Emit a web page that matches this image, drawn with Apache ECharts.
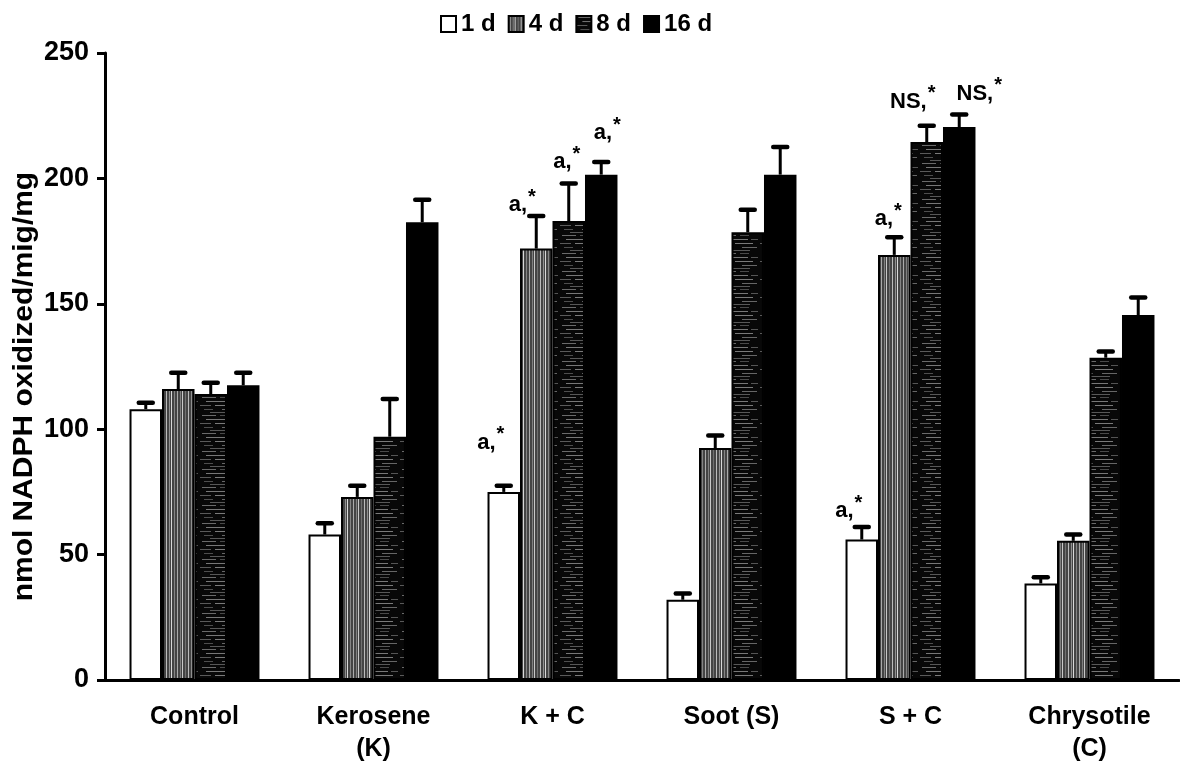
<!DOCTYPE html>
<html>
<head>
<meta charset="utf-8">
<script src="https://cdn.jsdelivr.net/npm/echarts@6/dist/echarts.min.js"></script>
<style>
  html, body { margin: 0; padding: 0; background: #fff; }
  #chart { width: 1180px; height: 765px; }
</style>
</head>
<body>
<div id="chart"></div>
<script>
// Groups along the x axis
const categories = ['Control', 'Kerosene\n(K)', 'K + C', 'Soot (S)', 'S + C', 'Chrysotile\n(C)'];
const seriesNames = ['1 d', '4 d', '8 d', '16 d'];

// Mean NADPH oxidation per exposure time
const day1 = [108, 58, 75, 32, 56, 38.5];
const day4 = [116, 73, 172, 92.5, 169.5, 55.5];
const day8 = [114, 97, 183, 178.5, 214.5, 128.5];
const day16 = [117.5, 182.5, 201.5, 201.5, 220.5, 145.5];

// Upper error (SE) per exposure time
const day1Err = [2.5, 4.5, 2.5, 2.5, 5, 2.5];
const day4Err = [6.5, 4.5, 13, 5, 7, 2.5];
const day8Err = [4.5, 15, 15, 9, 6.5, 2.5];
const day16Err = [5, 9, 5, 11, 5, 7];

// Significance marks above bars
const day1Marks = ['', '', 'a,*', '', 'a,*', ''];
const day4Marks = ['', '', 'a,*', '', 'a,*', ''];
const day8Marks = ['', '', 'a,*', '', 'NS,*', ''];
const day16Marks = ['', '', 'a,*', '', 'NS,*', ''];

// Y axis ticks
const yTicks = [0, 50, 100, 150, 200, 250];

const means = [day1, day4, day8, day16];
const errs = [day1Err, day4Err, day8Err, day16Err];
const marks = [day1Marks, day4Marks, day8Marks, day16Marks];

// Placement of each mark relative to its error cap: [dx from bar centre, gap above cap] (px)
const markPlacement = {
  '0-2': [-13, 32], '1-2': [-14, 0], '2-2': [-2, 10], '3-2': [6, 18],
  '0-4': [-13, 5],  '1-4': [-6, 7], '2-4': [-14, 13], '3-4': [20, 10]
};

const FONT = '"Liberation Sans", Arial, Helvetica, sans-serif';

// Hatch fills
function stripePattern() {
  const c = document.createElement('canvas');
  c.width = 22; c.height = 4;
  const g = c.getContext('2d');
  g.fillStyle = '#444';
  g.fillRect(0, 0, 22, 4);
  const cols = [[1, '#aaa'], [4, '#808080'], [6, '#c8c8c8'], [9, '#707070'], [12, '#bbb'], [15, '#909090'], [17, '#d8d8d8'], [20, '#858585']];
  cols.forEach(([x, col]) => { g.fillStyle = col; g.fillRect(x, 0, 1, 4); });
  return c;
}
function dashPattern() {
  const c = document.createElement('canvas');
  c.width = 40; c.height = 18;
  const g = c.getContext('2d');
  g.fillStyle = '#080808';
  g.fillRect(0, 0, 40, 18);
  const dashes = [[2, 1, 14, '#6a6a6a'], [20, 1, 9, '#4a4a4a'], [6, 5, 22, '#777'], [31, 5, 7, '#555'],
                  [0, 9, 11, '#5a5a5a'], [15, 9, 18, '#7a7a7a'], [4, 13, 9, '#4e4e4e'], [22, 13, 15, '#666'],
                  [10, 16, 20, '#585858']];
  dashes.forEach(([x, y, w, col]) => { g.fillStyle = col; g.fillRect(x, y, w, 1); });
  return c;
}

const fills = [
  '#ffffff',
  { image: stripePattern(), repeat: 'repeat' },
  { image: dashPattern(), repeat: 'repeat' },
  '#000000'
];

const CAT_GAP = 0.274; // fraction of each band left empty

const barSeries = seriesNames.map((name, i) => ({
  name: name,
  type: 'bar',
  data: means[i],
  barGap: '0%',
  barCategoryGap: (CAT_GAP * 100) + '%',
  itemStyle: { color: fills[i], borderColor: '#000', borderWidth: 2 },
  emphasis: { disabled: true },
  z: 2
}));

const errSeries = seriesNames.map((name, i) => ({
  type: 'custom',
  name: name + ' err',
  data: means[i].map((v, k) => [k, v, errs[i][k]]),
  encode: { x: 0, y: 1 },
  z: 5,
  silent: true,
  renderItem: function (params, api) {
    const k = api.value(0);
    const v = api.value(1);
    const e = api.value(2);
    const mark = marks[i][k];
    const band = api.size([1, 0])[0];
    const bw = band * (1 - CAT_GAP) / 4;
    const base = api.coord([k, v]);
    const top = api.coord([k, v + e]);
    const x = base[0] + (i - 1.5) * bw;
    const children = [
      { type: 'line', shape: { x1: x, y1: base[1], x2: x, y2: top[1] },
        style: { stroke: '#000', lineWidth: 3 } },
      { type: 'line', shape: { x1: x - 7, y1: top[1], x2: x + 7, y2: top[1] },
        style: { stroke: '#000', lineWidth: 4.5, lineCap: 'round' } }
    ];
    if (mark) {
      const place = markPlacement[i + '-' + k] || [0, 12];
      const parts = mark.split('*');
      children.push({
        type: 'text',
        style: {
          x: x + place[0], y: top[1] - place[1],
          text: '{m|' + parts[0] + '}{s|*}',
          align: 'center', verticalAlign: 'bottom',
          rich: {
            m: { font: 'bold 22px ' + FONT, fill: '#000', verticalAlign: 'bottom' },
            s: { font: 'bold 20px ' + FONT, fill: '#000', verticalAlign: 'top', padding: [0, 0, 9, 1] }
          }
        }
      });
    }
    return { type: 'group', children: children };
  }
}));

const GRID = { left: 105, right: 1, top: 53, bottom: 82 };

const chart = echarts.init(document.getElementById('chart'), null, { renderer: 'canvas' });
chart.setOption({
  animation: false,
  backgroundColor: '#fff',
  textStyle: { fontFamily: FONT },
  legend: {
    data: seriesNames,
    top: 7,
    left: 435,
    itemWidth: 15,
    itemHeight: 16,
    itemGap: 12,
    icon: 'rect',
    selectedMode: false,
    textStyle: { fontSize: 24, fontWeight: 'bold', color: '#000' }
  },
  grid: Object.assign({ containLabel: false }, GRID),
  xAxis: {
    type: 'category',
    data: categories,
    axisLine: { show: true, lineStyle: { color: '#000', width: 3 } },
    axisTick: { show: false },
    axisLabel: { color: '#000', fontSize: 25, fontWeight: 'bold', margin: 21, lineHeight: 32, interval: 0 }
  },
  yAxis: {
    type: 'value',
    min: yTicks[0],
    max: yTicks[yTicks.length - 1],
    interval: yTicks[1] - yTicks[0],
    axisLine: { show: true, lineStyle: { color: '#000', width: 3 } },
    axisTick: { show: true, inside: false, length: 8, lineStyle: { color: '#000', width: 3 } },
    splitLine: { show: false },
    axisLabel: { color: '#000', fontSize: 27, fontWeight: 'bold', margin: 16 }
  },
  series: barSeries.concat(errSeries)
});

// Rotated axis title beside the y axis
const y0 = chart.convertToPixel({ yAxisIndex: 0 }, 0);
const yTop = chart.convertToPixel({ yAxisIndex: 0 }, yTicks[yTicks.length - 1]);
chart.setOption({
  graphic: [
    { type: 'text', x: 24, y: y0 - (y0 - yTop) * 0.468, rotation: Math.PI / 2, scaleX: 1.07,
      style: { text: 'nmol NADPH oxidized/mig/mg', font: 'bold 28px ' + FONT, fill: '#000',
               align: 'center', verticalAlign: 'middle' } }
  ]
});
</script>
</body>
</html>
